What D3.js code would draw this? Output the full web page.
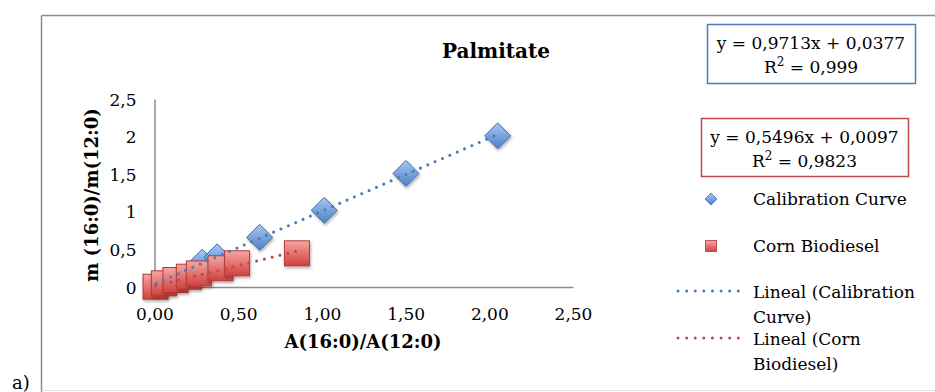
<!DOCTYPE html>
<html>
<head>
<meta charset="utf-8">
<script src="https://cdn.jsdelivr.net/npm/d3@7"></script>
<style>
  html, body { margin: 0; padding: 0; background: #fff; }
  svg { display: block; font-family: "DejaVu Serif", serif; }
</style>
</head>
<body>
<svg id="chart" width="935" height="392"></svg>
<script>
// Calibration standards: area ratio vs mass ratio
const calX = [0.01, 0.285, 0.374, 0.628, 1.014, 1.502, 2.05];
const calY = [0.04, 0.33, 0.40, 0.66, 1.02, 1.51, 2.01];
// Corn biodiesel samples
const cornX = [0.006, 0.056, 0.125, 0.205, 0.265, 0.394, 0.493, 0.851];
const cornY = [0.004, 0.049, 0.093, 0.137, 0.18, 0.249, 0.315, 0.448];
// Linear trendline coefficients (slope, intercept, R²)
const calFit = { m: 0.9713, b: 0.0377, r2: "0,999" };
const cornFit = { m: 0.5496, b: 0.0097, r2: "0,9823" };

const xTicks = [0, 0.5, 1, 1.5, 2, 2.5];
const yTicks = [0, 0.5, 1, 1.5, 2, 2.5];

const title = "Palmitate";
const xTitle = "A(16:0)/A(12:0)";
const yTitle = "m (16:0)/m(12:0)";
const seriesNames = ["Calibration Curve", "Corn Biodiesel"];

const blue = "#4a7ebb", red = "#be4b48";
const comma = v => String(v).replace(".", ",");
const fmtX = v => v.toFixed(2).replace(".", ",");
const fmtY = v => comma(v);

const svg = d3.select("#chart");
const defs = svg.append("defs");

const gBlue = defs.append("linearGradient").attr("id", "gBlue").attr("x1", 0).attr("y1", 0).attr("x2", 0).attr("y2", 1);
gBlue.append("stop").attr("offset", "0%").attr("stop-color", "#a9c8f2");
gBlue.append("stop").attr("offset", "100%").attr("stop-color", "#4a7fc6");
const gRed = defs.append("linearGradient").attr("id", "gRed").attr("x1", 0).attr("y1", 0).attr("x2", 0).attr("y2", 1);
gRed.append("stop").attr("offset", "0%").attr("stop-color", "#f6a6a4");
gRed.append("stop").attr("offset", "100%").attr("stop-color", "#d0403e");

const shadow = defs.append("filter").attr("id", "shadow").attr("x", "-30%").attr("y", "-30%").attr("width", "160%").attr("height", "160%");
shadow.append("feDropShadow").attr("dx", 1).attr("dy", 2).attr("stdDeviation", 1.5)
  .attr("flood-color", "#000").attr("flood-opacity", 0.3);

// Outer frame
svg.append("line").attr("x1", 41.5).attr("y1", 15.5).attr("x2", 935).attr("y2", 15.5).attr("stroke", "#8c8c8c").attr("stroke-width", 1.5);
svg.append("line").attr("x1", 41.5).attr("y1", 15.5).attr("x2", 41.5).attr("y2", 392).attr("stroke", "#8c8c8c").attr("stroke-width", 1.5);
svg.append("line").attr("x1", 41.5).attr("y1", 390.5).attr("x2", 935).attr("y2", 390.5).attr("stroke", "#e2e2e2").attr("stroke-width", 1);

svg.append("text").attr("x", 12).attr("y", 389).attr("font-size", 18).attr("fill", "#000").text("a)");

// Scales
const x = d3.scaleLinear().domain([0, 2.5]).range([154.5, 573]);
const y = d3.scaleLinear().domain([0, 2.5]).range([287, 99]);

// Axes
const xAxis = svg.append("g").attr("transform", `translate(0,${y(0)})`)
  .call(d3.axisBottom(x).tickValues(xTicks).tickFormat(fmtX).tickSize(0).tickPadding(21));
const yAxis = svg.append("g").attr("transform", `translate(${x(0)},0)`)
  .call(d3.axisLeft(y).tickValues(yTicks).tickFormat(fmtY).tickSize(0).tickPadding(18));
[xAxis, yAxis].forEach(a => {
  a.select(".domain").attr("stroke", "#8c8c8c").attr("stroke-width", 1.5);
  a.selectAll("text").attr("font-size", 17).attr("fill", "#000").attr("font-family", "DejaVu Serif");
});
yAxis.selectAll("text").attr("dy", "0.36em");

// Titles
svg.append("text").attr("x", 496).attr("y", 58).attr("text-anchor", "middle")
  .attr("font-size", 20).attr("font-weight", "bold").text(title);
svg.append("text").attr("x", 363).attr("y", 348).attr("text-anchor", "middle")
  .attr("font-size", 18).attr("font-weight", "bold").text(xTitle);
svg.append("text").attr("transform", "translate(98,195) rotate(-90)").attr("text-anchor", "middle")
  .attr("font-size", 18).attr("font-weight", "bold").text(yTitle);

// Markers
function diamondPath(half) {
  return `M0,${-half}L${half},0L0,${half}L${-half},0Z`;
}
const calPts = calX.map((v, i) => [v, calY[i]]);
const cornPts = cornX.map((v, i) => [v, cornY[i]]);

svg.append("g").selectAll("path").data(calPts).join("path")
  .attr("transform", d => `translate(${x(d[0])},${y(d[1])})`)
  .attr("d", diamondPath(13))
  .attr("fill", "url(#gBlue)").attr("stroke", "#3b6db3").attr("stroke-width", 1)
  .attr("filter", "url(#shadow)");

const sq = 25;
svg.append("g").selectAll("rect").data(cornPts).join("rect")
  .attr("x", d => x(d[0]) - sq / 2).attr("y", d => y(d[1]) - sq / 2)
  .attr("width", sq).attr("height", sq)
  .attr("fill", "url(#gRed)").attr("stroke", "#b53a38").attr("stroke-width", 1)
  .attr("filter", "url(#shadow)");

// Trendlines
function trend(xs, fit, color) {
  const x0 = d3.min(xs), x1 = d3.max(xs);
  svg.append("line")
    .attr("x1", x(x0)).attr("y1", y(fit.m * x0 + fit.b))
    .attr("x2", x(x1)).attr("y2", y(fit.m * x1 + fit.b))
    .attr("stroke", color).attr("stroke-width", 3)
    .attr("stroke-linecap", "round").attr("stroke-dasharray", "0.01 8");
}
trend(calX, calFit, blue);
trend(cornX, cornFit, red);

// Equation boxes
function eqBox(x0, y0, w, h, fit, color) {
  svg.append("rect").attr("x", x0 + 0.5).attr("y", y0 + 0.5).attr("width", w).attr("height", h)
    .attr("fill", "#fff").attr("stroke", color).attr("stroke-width", 1.5);
  const cx = x0 + w / 2;
  svg.append("text").attr("x", cx).attr("y", y0 + 25).attr("text-anchor", "middle").attr("font-size", 17)
    .text(`y = ${comma(fit.m)}x + ${comma(fit.b)}`);
  const t = svg.append("text").attr("x", cx).attr("y", y0 + 49).attr("text-anchor", "middle").attr("font-size", 17);
  t.append("tspan").text("R");
  t.append("tspan").attr("font-size", 12).attr("dy", -7).text("2");
  t.append("tspan").attr("dy", 7).text(` = ${fit.r2}`);
}
eqBox(707, 24, 208, 59, calFit, blue);
eqBox(701, 118, 207, 58, cornFit, red);

// Legend
const lg = svg.append("g");
lg.append("path").attr("transform", "translate(711,199)").attr("d", diamondPath(6))
  .attr("fill", "url(#gBlue)").attr("stroke", "#3b6db3").attr("stroke-width", 0.8);
lg.append("rect").attr("x", 705.5).attr("y", 240.5).attr("width", 11).attr("height", 11)
  .attr("fill", "url(#gRed)").attr("stroke", "#b53a38").attr("stroke-width", 0.8);
[[291, blue], [338, red]].forEach(([ly, c]) => {
  lg.append("line").attr("x1", 678).attr("x2", 739).attr("y1", ly).attr("y2", ly)
    .attr("stroke", c).attr("stroke-width", 3).attr("stroke-linecap", "round").attr("stroke-dasharray", "0.01 8.6");
});
const legendText = [
  [205, seriesNames[0]],
  [252, seriesNames[1]],
  [298, `Lineal (Calibration`],
  [323, `Curve)`],
  [345, `Lineal (Corn`],
  [370, `Biodiesel)`]
];
lg.selectAll("text").data(legendText).join("text")
  .attr("x", 753).attr("y", d => d[0]).attr("font-size", 17).text(d => d[1]);
</script>
</body>
</html>
